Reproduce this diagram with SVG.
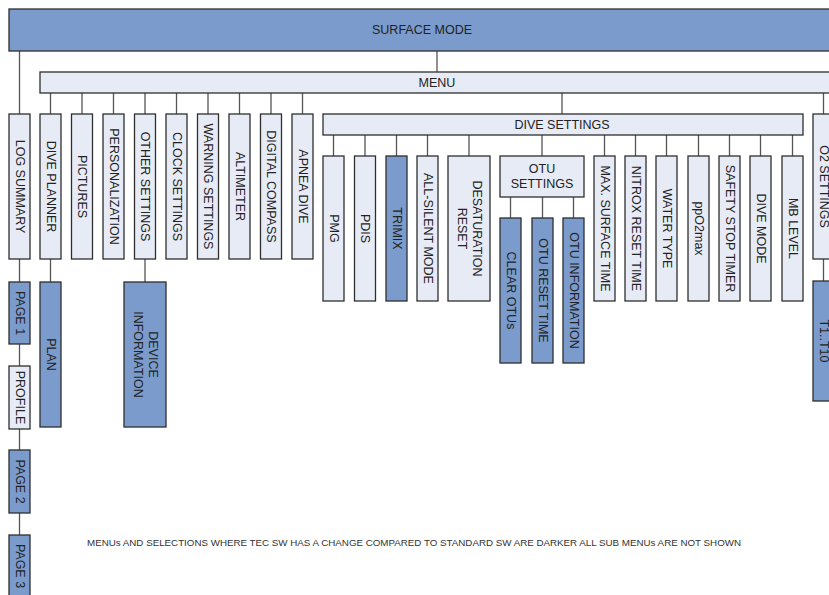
<svg xmlns="http://www.w3.org/2000/svg" width="829" height="595" viewBox="0 0 829 595">
<style>
.lt{fill:#E7EBF6;stroke:#2e2e2e;stroke-width:1.3}
.dk{fill:#7A9BCB;stroke:#2e2e2e;stroke-width:1.3}
.t{font-family:"Liberation Sans",Arial,sans-serif;font-size:12.5px;fill:#222;text-anchor:middle;dominant-baseline:central}
.c{stroke:#555;stroke-width:1.3;fill:none}
.note{font-family:"Liberation Sans",Arial,sans-serif;font-size:9px;fill:#333}
</style>
<rect width="829" height="595" fill="#fff"/>
<g id="connectors">
<path class="c" d="M19.5 51V114M437 51V72M562 93V114M823.5 93V114
M50.5 93V114M82 93V114M113.5 93V114M145 93V114M176.5 93V114M208 93V114M239.5 93V114M271 93V114M302.5 93V114
M333.5 135V156M365 135V156M396.5 135V156M427.5 135V156M469 135V156M542 135V156M604.5 135V156M635.5 135V156M666.5 135V156M698.5 135V156M729.5 135V156M760.5 135V156M792.5 135V156
M510.5 197V218M542.5 197V218M573.5 197V218
M19.5 259V282M19.5 344V366M19.5 429V450M19.5 513V535
M50.5 259V282M145 259V282M823.5 259V281"/>
</g>
<g id="surface-mode"><rect class="dk" x="9" y="9" width="830" height="42"/><text class="t" x="422" y="30">SURFACE MODE</text></g>
<g id="menu"><rect class="lt" x="40" y="72" width="800" height="21"/><text class="t" x="437" y="82.5">MENU</text></g>
<g id="log-summary"><rect class="lt" x="9" y="114" width="21" height="145"/><text class="t" transform="rotate(90 19.5 186.5)" x="19.5" y="186.5">LOG SUMMARY</text></g>
<g id="dive-planner"><rect class="lt" x="40" y="114" width="21" height="145"/><text class="t" transform="rotate(90 50.5 186.5)" x="50.5" y="186.5">DIVE PLANNER</text></g>
<g id="pictures"><rect class="lt" x="71.5" y="114" width="21" height="145"/><text class="t" transform="rotate(90 82 186.5)" x="82" y="186.5">PICTURES</text></g>
<g id="personalization"><rect class="lt" x="103" y="114" width="21" height="145"/><text class="t" transform="rotate(90 113.5 186.5)" x="113.5" y="186.5">PERSONALIZATION</text></g>
<g id="other-settings"><rect class="lt" x="134.5" y="114" width="21" height="145"/><text class="t" transform="rotate(90 145 186.5)" x="145" y="186.5">OTHER SETTINGS</text></g>
<g id="clock-settings"><rect class="lt" x="166" y="114" width="21" height="145"/><text class="t" transform="rotate(90 176.5 186.5)" x="176.5" y="186.5">CLOCK SETTINGS</text></g>
<g id="warning-settings"><rect class="lt" x="197.5" y="114" width="21" height="145"/><text class="t" transform="rotate(90 208 186.5)" x="208" y="186.5">WARNING SETTINGS</text></g>
<g id="altimeter"><rect class="lt" x="229" y="114" width="21" height="145"/><text class="t" transform="rotate(90 239.5 186.5)" x="239.5" y="186.5">ALTIMETER</text></g>
<g id="digital-compass"><rect class="lt" x="260.5" y="114" width="21" height="145"/><text class="t" transform="rotate(90 271 186.5)" x="271" y="186.5">DIGITAL COMPASS</text></g>
<g id="apnea-dive"><rect class="lt" x="292" y="114" width="21" height="145"/><text class="t" transform="rotate(90 302.5 186.5)" x="302.5" y="186.5">APNEA DIVE</text></g>
<g id="dive-settings"><rect class="lt" x="323" y="114" width="480" height="21"/><text class="t" x="562" y="124.5">DIVE SETTINGS</text></g>
<g id="o2-settings"><rect class="lt" x="813" y="114" width="22" height="145"/><text class="t" transform="rotate(90 824 186.5)" x="824" y="186.5">O2 SETTINGS</text></g>
<g id="pmg"><rect class="lt" x="323" y="156" width="21" height="145"/><text class="t" transform="rotate(90 333.5 228.5)" x="333.5" y="228.5">PMG</text></g>
<g id="pdis"><rect class="lt" x="354.5" y="156" width="21" height="145"/><text class="t" transform="rotate(90 365 228.5)" x="365" y="228.5">PDIS</text></g>
<g id="trimix"><rect class="dk" x="386" y="156" width="21" height="145"/><text class="t" transform="rotate(90 396.5 228.5)" x="396.5" y="228.5">TRIMIX</text></g>
<g id="all-silent-mode"><rect class="lt" x="417" y="156" width="21" height="145"/><text class="t" transform="rotate(90 427.5 228.5)" x="427.5" y="228.5">ALL-SILENT MODE</text></g>
<g id="desaturation-reset"><rect class="lt" x="448" y="156" width="42" height="145"/><text class="t" transform="rotate(90 469 228.5)" x="469" y="228.5"><tspan x="469" dy="-0.6em">DESATURATION</tspan><tspan x="469" dy="1.2em">RESET</tspan></text></g>
<g id="otu-settings"><rect class="lt" x="500" y="156" width="84" height="41"/><text class="t" x="542" y="176.5"><tspan x="542" dy="-0.6em">OTU</tspan><tspan x="542" dy="1.2em">SETTINGS</tspan></text></g>
<g id="clear-otus"><rect class="dk" x="500" y="218" width="21" height="145"/><text class="t" transform="rotate(90 510.5 290.5)" x="510.5" y="290.5">CLEAR OTUs</text></g>
<g id="otu-reset-time"><rect class="dk" x="532" y="218" width="21" height="145"/><text class="t" transform="rotate(90 542.5 290.5)" x="542.5" y="290.5">OTU RESET TIME</text></g>
<g id="otu-information"><rect class="dk" x="563" y="218" width="21" height="145"/><text class="t" transform="rotate(90 573.5 290.5)" x="573.5" y="290.5">OTU INFORMATION</text></g>
<g id="max-surface-time"><rect class="lt" x="594" y="156" width="21" height="145"/><text class="t" transform="rotate(90 604.5 228.5)" x="604.5" y="228.5">MAX. SURFACE TIME</text></g>
<g id="nitrox-reset-time"><rect class="lt" x="625" y="156" width="21" height="145"/><text class="t" transform="rotate(90 635.5 228.5)" x="635.5" y="228.5">NITROX RESET TIME</text></g>
<g id="water-type"><rect class="lt" x="656" y="156" width="21" height="145"/><text class="t" transform="rotate(90 666.5 228.5)" x="666.5" y="228.5">WATER TYPE</text></g>
<g id="ppo2max"><rect class="lt" x="688" y="156" width="21" height="145"/><text class="t" transform="rotate(90 698.5 228.5)" x="698.5" y="228.5">ppO2max</text></g>
<g id="safety-stop-timer"><rect class="lt" x="719" y="156" width="21" height="145"/><text class="t" transform="rotate(90 729.5 228.5)" x="729.5" y="228.5">SAFETY STOP TIMER</text></g>
<g id="dive-mode"><rect class="lt" x="750" y="156" width="21" height="145"/><text class="t" transform="rotate(90 760.5 228.5)" x="760.5" y="228.5">DIVE MODE</text></g>
<g id="mb-level"><rect class="lt" x="782" y="156" width="21" height="145"/><text class="t" transform="rotate(90 792.5 228.5)" x="792.5" y="228.5">MB LEVEL</text></g>
<g id="page-1"><rect class="dk" x="9" y="282" width="21" height="62"/><text class="t" transform="rotate(90 19.5 313)" x="19.5" y="313">PAGE 1</text></g>
<g id="profile"><rect class="lt" x="9" y="366" width="21" height="63"/><text class="t" transform="rotate(90 19.5 397.5)" x="19.5" y="397.5">PROFILE</text></g>
<g id="page-2"><rect class="dk" x="9" y="450" width="21" height="63"/><text class="t" transform="rotate(90 19.5 481.5)" x="19.5" y="481.5">PAGE 2</text></g>
<g id="page-3"><rect class="dk" x="9" y="535" width="21" height="70"/><text class="t" transform="rotate(90 19.5 566)" x="19.5" y="566">PAGE 3</text></g>
<g id="plan"><rect class="dk" x="40" y="282" width="21" height="145"/><text class="t" transform="rotate(90 50.5 354.5)" x="50.5" y="354.5">PLAN</text></g>
<g id="device-information"><rect class="dk" x="124" y="282" width="42" height="145"/><text class="t" transform="rotate(90 145 354.5)" x="145" y="354.5"><tspan x="145" dy="-0.6em">DEVICE</tspan><tspan x="145" dy="1.2em">INFORMATION</tspan></text></g>
<g id="t1-t10"><rect class="dk" x="813" y="281" width="22" height="120"/><text class="t" transform="rotate(90 824 341)" x="824" y="341">T1..T10</text></g>
<text class="note" x="87" y="545.5" textLength="654" lengthAdjust="spacingAndGlyphs">MENUs AND SELECTIONS WHERE TEC SW HAS A CHANGE COMPARED TO STANDARD SW ARE DARKER ALL SUB MENUs ARE NOT SHOWN</text>
</svg>
